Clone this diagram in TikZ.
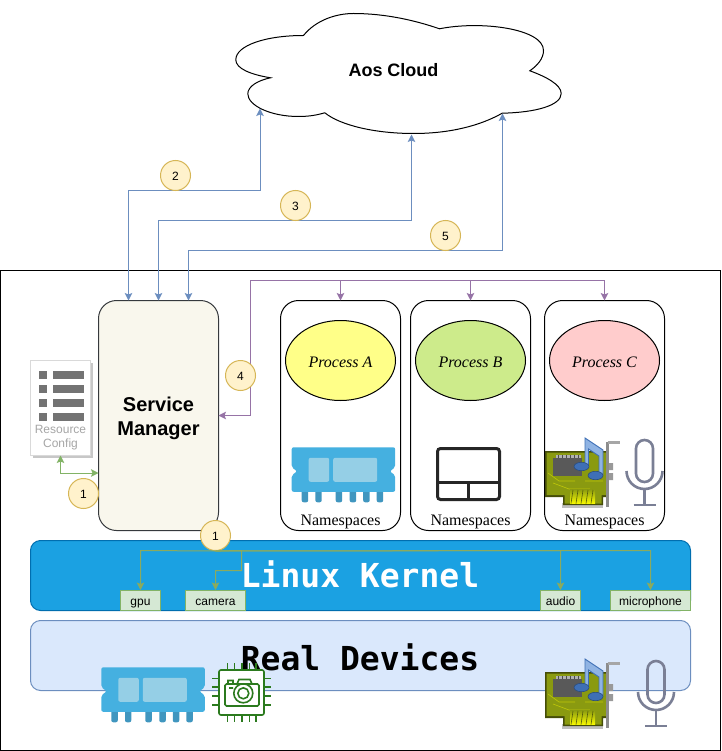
\documentclass[tikz,border=0pt]{standalone}
\usepackage{fontspec}
\setmainfont{Liberation Sans}
\newfontfamily\seriffont{Liberation Serif}
\newfontfamily\kernelfont{DejaVu Sans Mono}
\usetikzlibrary{arrows.meta,shapes.geometric}
\definecolor{badgefill}{HTML}{FFF2CC}
\definecolor{badgeline}{HTML}{D6B656}
\definecolor{bluelink}{HTML}{6C8EBF}
\definecolor{purplelink}{HTML}{9673A6}
\definecolor{greenlink}{HTML}{82B366}
\definecolor{olivelink}{HTML}{8BAA5E}
\definecolor{devfill}{HTML}{D5E8D4}
\definecolor{managerfill}{HTML}{F9F7ED}
\definecolor{managerline}{HTML}{36393D}
\definecolor{kernelfill}{HTML}{1BA1E2}
\definecolor{kernelline}{HTML}{006EAF}
\definecolor{devicesfill}{HTML}{DAE8FC}
\definecolor{procafill}{HTML}{FFFF88}
\definecolor{procbfill}{HTML}{CDEB8B}
\definecolor{proccfill}{HTML}{FFCCCC}
\definecolor{ramblue}{HTML}{45B0E0}
\definecolor{ramlight}{HTML}{95CFE6}
\definecolor{rampin}{HTML}{4096BF}
\definecolor{chipgreen}{HTML}{2B7A1E}
\definecolor{micgrey}{HTML}{7A7F95}
\definecolor{boardolive}{HTML}{8A9A10}
\definecolor{notedark}{HTML}{3E6FB5}
\definecolor{notelight}{HTML}{8FB3E3}
\tikzset{
  badge/.style={circle,draw=badgeline,fill=badgefill,minimum size=30pt,inner sep=0pt,text height=9.5pt,text depth=0pt,font=\fontsize{12}{12}\selectfont},
  procbox/.style={draw=black,fill=white,rounded corners=18pt,minimum width=120pt,minimum height=230pt,inner sep=0pt},
  procoval/.style={ellipse,draw=black,minimum width=110pt,minimum height=80pt,inner sep=0pt,text height=13pt,text depth=0pt,font=\seriffont\itshape\fontsize{16}{16}\selectfont},
  nslabel/.style={inner sep=0pt,font=\seriffont\fontsize{16}{16}\selectfont},
  devbox/.style={draw=greenlink,fill=devfill,minimum height=20pt,inner sep=0pt,text height=10.5pt,text depth=0.5pt,font=\fontsize{12}{12}\selectfont},
  layerbox/.style={rounded corners=10pt,minimum width=660pt,minimum height=70pt,inner sep=0pt},
  layerlabel/.style={inner sep=0pt,font=\kernelfont\bfseries\fontsize{33}{33}\selectfont},
  bluearrow/.style={draw=bluelink,{Stealth[length=7.5pt,width=7.5pt,inset=1.5pt]}-{Stealth[length=7.5pt,width=7.5pt,inset=1.5pt]}},
  greenarrow/.style={draw=greenlink,{Stealth[length=7.5pt,width=7.5pt,inset=1.5pt]}-{Stealth[length=7.5pt,width=7.5pt,inset=1.5pt]}},
  purplearrow/.style={draw=purplelink,-{Stealth[length=7.5pt,width=7.5pt,inset=1.5pt]}},
  olivearrow/.style={draw=olivelink,-{Stealth[length=7.5pt,width=7.5pt,inset=1.5pt]}},
  ramicon/.pic={
    \fill[rampin,rounded corners=2pt] (10,40) rectangle (16.5,55)  (23.7,40) rectangle (30,55)
      (44,40) rectangle (50.5,55)  (58,40) rectangle (64.5,55)  (71.5,40) rectangle (78,55)  (85,40) rectangle (91.5,55);
    \fill[ramblue,rounded corners=2pt] (0,0) -- (103.5,0) -- (103.5,20) -- (98,24) -- (103.5,28) -- (103.5,44.5)
      -- (0,44.5) -- (0,28) -- (5.5,24) -- (0,20) -- cycle;
    \fill[ramlight,rounded corners=2pt] (17,10.5) rectangle (37.5,34.5)  (41.5,10.5) rectangle (85.5,34.5);
  },
  cardicon/.pic={
    \fill[black!25] (17,52) -- (58,52) -- (58,57) -- (17,57) -- cycle;
    \fill[boardolive!50!black] (0,0) -- (62,0) -- (62,46) -- (58,46) -- (58,54) -- (18,54) -- (18,46) -- (0,46) -- cycle;
    \fill[boardolive] (1.5,1.5) -- (61,1.5) -- (61,44) -- (56.5,44) -- (56.5,52.5) -- (19.5,52.5) -- (19.5,44) -- (1.5,44) -- cycle;
    \draw[boardolive!55!yellow,line width=0.6pt] (3,22) -- (14,30) -- (30,30) (8,32) -- (24,38) -- (45,38) (40,30) -- (58,30);
    \fill[top color=boardolive,bottom color=yellow!95!boardolive] (25,38) rectangle (50,52.5);
    \foreach \fx in {28,33,38,43,48} {\draw[boardolive!60!black,line width=0.6pt] (\fx,39) -- (\fx-2,52.5);}
    \fill[black!65] (8,7) rectangle (37,25);
    \fill[black!30] (11,4) rectangle (36,7);
    \foreach \fx in {13,17,21,25,29,33} {\draw[black!70,line width=0.6pt] (\fx,4) -- (\fx,7);}
    \draw[black!45,line width=3pt] (62.5,-9) -- (62.5,56);
    \draw[black!35,line width=2.5pt] (62.5,-8.5) -- (75,-8.5);
    \fill[black!40] (64,12) rectangle (68,19)  (64,22) rectangle (68,29);
    \draw[notedark,fill=notelight,line width=0.9pt] (40,14) -- (40,-13) -- (58,-1) -- (58,24) -- (54,24) -- (54,5) -- (43.5,-2) -- (43.5,14) -- cycle;
    \draw[notedark!70!black,fill=notedark,line width=0.6pt] (36.5,15.5) ellipse (7.5pt and 4.2pt)  (50.5,24.5) ellipse (7.5pt and 4.2pt);
  },
  micicon/.pic={
    \draw[micgrey,line width=2.6pt] (-8.5,8.5) arc[start angle=180,end angle=0,radius=8.5pt] -- (8.5,33.5)
      arc[start angle=0,end angle=-180,radius=8.5pt] -- cycle;
    \draw[micgrey,line width=2.6pt] (-18,31) arc[start angle=180,end angle=360,radius=18pt];
    \draw[micgrey,line width=2.6pt] (0,49) -- (0,65)  (-11,65) -- (11,65);
  }
}
\begin{document}
\begin{tikzpicture}[x=1pt,y=-1pt,line width=1pt]
    \useasboundingbox (0,0) rectangle (721,751);
    \draw[black,line width=1pt] (0.5,270.5) rectangle (720.5,750.5);

    \begin{scope}[shift={(0.5,0.5)}]
    \draw[black,fill=white] (303,35) .. controls (315,20) and (335,13) .. (353,13)
        .. controls (385,13) and (415,20) .. (439,28.3)
        .. controls (480,20) and (543,28) .. (543,50)
        .. controls (543,58) and (537,65) .. (529.3,70.3)
        .. controls (545,76) and (560.7,84) .. (560.7,93)
        .. controls (560.7,105) and (535,112) .. (501.7,112.7)
        .. controls (480,125) and (450,133) .. (413,133)
        .. controls (375,133) and (340,125) .. (324.3,112.3)
        .. controls (315,115) and (307,116) .. (298,116)
        .. controls (270,116) and (247.3,105) .. (247.3,93.3)
        .. controls (247.3,86) and (257,80) .. (270,77.3)
        .. controls (250,74) and (235.3,68) .. (235.3,59.3)
        .. controls (235.3,45) and (265,35) .. (303,35) -- cycle;
    \node[inner sep=0pt,font=\bfseries\fontsize{18}{18}\selectfont] (cloudname) at (393,70) {Aos Cloud};
    \coordinate (cloudleft) at (259.5,108);
    \coordinate (cloudmid) at (411,134);
    \coordinate (cloudright) at (502,113);

    \node[fill=black!22,minimum width=60pt,minimum height=95pt,inner sep=0pt] (cfgshadow) at (62,410) {};
    \node[draw=black!15,fill=white,minimum width=60pt,minimum height=95pt,inner sep=0pt] (cfg) at (60,407.5) {};
    \foreach \rowy in {370,384,398,412} {
        \fill[black!55] (38,\rowy) rectangle ++(8,8);
        \fill[black!55] (52,\rowy) rectangle ++(31,8);
    }
    \node[inner sep=0pt,align=center,text=black!35,font=\fontsize{12}{14}\selectfont] (cfgname) at (60,437.5) {Resource\\Config};

    \node[draw=managerline,fill=managerfill,rounded corners=18pt,minimum width=120pt,minimum height=230pt,inner sep=0pt] (manager) at (158,415) {};
    \node[inner sep=0pt,align=center,font=\bfseries\fontsize{20}{24}\selectfont] (managername) at (158,418) {Service\\Manager};

    \node[procbox] (boxa) at (340,415) {};
    \node[procbox] (boxb) at (470,415) {};
    \node[procbox] (boxc) at (604,415) {};
    \begin{scope}[every node/.style={procoval}]
    \node[fill=procafill] (proca) at (340,360) {Process A};
    \node[fill=procbfill] (procb) at (470,360) {Process B};
    \node[fill=proccfill] (procc) at (604,360) {Process C};
    \end{scope}
    \begin{scope}[every node/.style={nslabel}]
    \node (nsa) at (340,521) {Namespaces};
    \node (nsb) at (470,521) {Namespaces};
    \node (nsc) at (604,521) {Namespaces};
    \end{scope}

    \pic at (291.2,446.8) {ramicon};
    \draw[black!85,line width=3pt,rounded corners=3pt] (437,448) rectangle (499,499);
    \draw[black!85,line width=3pt] (437,481.5) -- (499,481.5) (467.5,481.5) -- (467.5,499);
    \pic at (544.5,450.5) {cardicon};
    \pic at (644,439.5) {micicon};

    \node[layerbox,draw=kernelline,fill=kernelfill] (kernel) at (360,575) {};
    \node[layerlabel,text=white] (kernelname) at (359.5,573.5) {Linux Kernel};
    \node[layerbox,draw=bluelink,fill=devicesfill] (devices) at (360,655) {};
    \node[layerlabel,text=black] (devicesname) at (359.5,656.5) {Real Devices};

    \begin{scope}[every node/.style={devbox}]
    \node[minimum width=40pt] (gpu) at (140,600) {gpu};
    \node[minimum width=60pt] (camera) at (215,600) {camera};
    \node[minimum width=40pt] (audio) at (560,600) {audio};
    \node[minimum width=80pt] (mic) at (650,600) {microphone};
    \end{scope}

    \pic at (100.8,666.8) {ramicon};
    \draw[chipgreen,line width=1.6pt] \foreach \pos in {227,234,241.2,249,255.5} {
        (\pos,662.8) -- (\pos,669.5)  (\pos,714.5) -- (\pos,721.2)};
    \draw[chipgreen,line width=1.6pt] \foreach \pos in {677.8,686.2,695.2,704.5} {
        (211.8,\pos) -- (218.5,\pos)  (263.5,\pos) -- (270.2,\pos)};
    \draw[chipgreen,fill=white,line width=1.6pt,rounded corners=2pt] (218.5,669.5) rectangle (263.5,714.5);
    \draw[chipgreen,line width=1.6pt,rounded corners=1.5pt] (224.5,705.5) rectangle (258.5,683.5);
    \draw[chipgreen,line width=1.6pt] (227.5,683.5) -- (227.5,680) -- (232.5,680) -- (232.5,683.5)
        (236.5,683.5) -- (238.5,679) -- (249.5,679) -- (251.5,683.5);
    \draw[chipgreen,line width=1.6pt] (242.8,692.8) circle (9.5pt) (242.8,692.8) circle (5.5pt) (228.5,687.5) -- (232.5,687.5);
    \pic at (544.5,671.5) {cardicon};
    \pic at (655.5,660.5) {micicon};

    \coordinate (managertop1) at (128,300);
    \coordinate (managertop2) at (158,300);
    \coordinate (managertop3) at (188,300);
    \coordinate (managerright) at (218,415);
    \coordinate (boxtopa) at (340,300);
    \coordinate (boxtopb) at (470,300);
    \coordinate (boxtopc) at (604,300);
    \coordinate (cfgbottom) at (60,455);
    \coordinate (managerleft) at (98,472.5);

    \draw[bluearrow] (cloudleft) |- (128,190) -- (managertop1);
    \draw[bluearrow] (cloudmid) |- (158,220) -- (managertop2);
    \draw[bluearrow] (cloudright) |- (188,250) -- (managertop3);

    \draw[purplearrow] (249.5,280) -- (249.5,415) -- (managerright);
    \draw[purplearrow] (249.5,280) -| (boxtopa);
    \draw[purplearrow] (249.5,280) -| (boxtopb);
    \draw[purplearrow] (249.5,280) -| (boxtopc);

    \draw[greenarrow] (cfgbottom) |- (managerleft);

    \begin{scope}[every node/.style={badge}]
    \node (stepone) at (83,493) {1};
    \node (steptwo) at (175,175) {2};
    \node (stepthree) at (295,205) {3};
    \node (stepfour) at (240,375) {4};
    \node (stepfive) at (445,235) {5};
    \node (stepkernel) at (215,535) {1};
    \end{scope}

    \draw[olivearrow] (stepkernel.south) -- (140,550) -- (gpu.north);
    \draw[olivearrow] (stepkernel.south) -- (241,550) -- (241,570) -- (215,570) -- (camera.north);
    \draw[olivearrow] (stepkernel.south) -- (560,550) -- (audio.north);
    \draw[olivearrow] (stepkernel.south) -- (650,550) -- (mic.north);
    \end{scope}
\end{tikzpicture}
\end{document}
